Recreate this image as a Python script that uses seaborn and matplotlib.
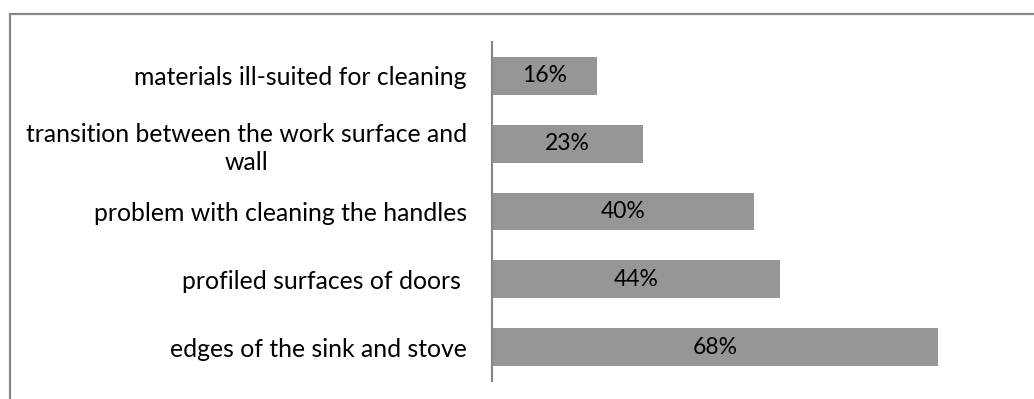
import matplotlib
matplotlib.use("Agg")
import matplotlib.pyplot as plt
import seaborn as sns
import pandas as pd
from matplotlib.lines import Line2D

categories = [
    "materials ill-suited for cleaning",
    "transition between the work surface and\nwall",
    "problem with cleaning the handles",
    "profiled surfaces of doors ",
    "edges of the sink and stove",
]
values = [16, 23, 40, 44, 68]
value_labels = ["16%", "23%", "40%", "44%", "68%"]

sns.set_style("white")
plt.rcParams['font.family'] = ['Lato', 'DejaVu Sans']

df = pd.DataFrame({"category": categories, "value": values})

fig = plt.figure(figsize=(10.34, 3.99), dpi=100)
ax = fig.add_axes([492/1034, 1 - 381/399, 1 - 492/1034, (381 - 42)/399])

sns.barplot(data=df, x="value", y="category", orient="h", color="#969696",
            saturation=1, width=0.56, ax=ax, edgecolor="none")

ax.set_xlim(0, 82.7)
ax.set_ylim(4.5, -0.5)
ax.set_xlabel("")
ax.set_ylabel("")
ax.set_xticks([])
ax.tick_params(axis="y", length=0, pad=18, labelsize=17.8, labelcolor="#000000")
for lbl in ax.get_yticklabels():
    lbl.set_multialignment("center")
    lbl.set_linespacing(1.3)

for s in ["top", "right", "bottom"]:
    ax.spines[s].set_visible(False)
ax.spines["left"].set_color("#868686")
ax.spines["left"].set_linewidth(1.5)

for i, (v, t) in enumerate(zip(values, value_labels)):
    ax.text(v / 2, i, t, ha="center", va="center", fontsize=16.5, color="#000000")

# outer frame (top and left)
fx = 9.5 / 1034
fy = 1 - 13.5 / 399
fig.add_artist(Line2D([fx, fx, 1.0], [0.0, fy, fy], transform=fig.transFigure,
                      color="#868686", linewidth=1.6, solid_joinstyle="miter"))

fig.savefig("out.png", dpi=100, facecolor="white")
